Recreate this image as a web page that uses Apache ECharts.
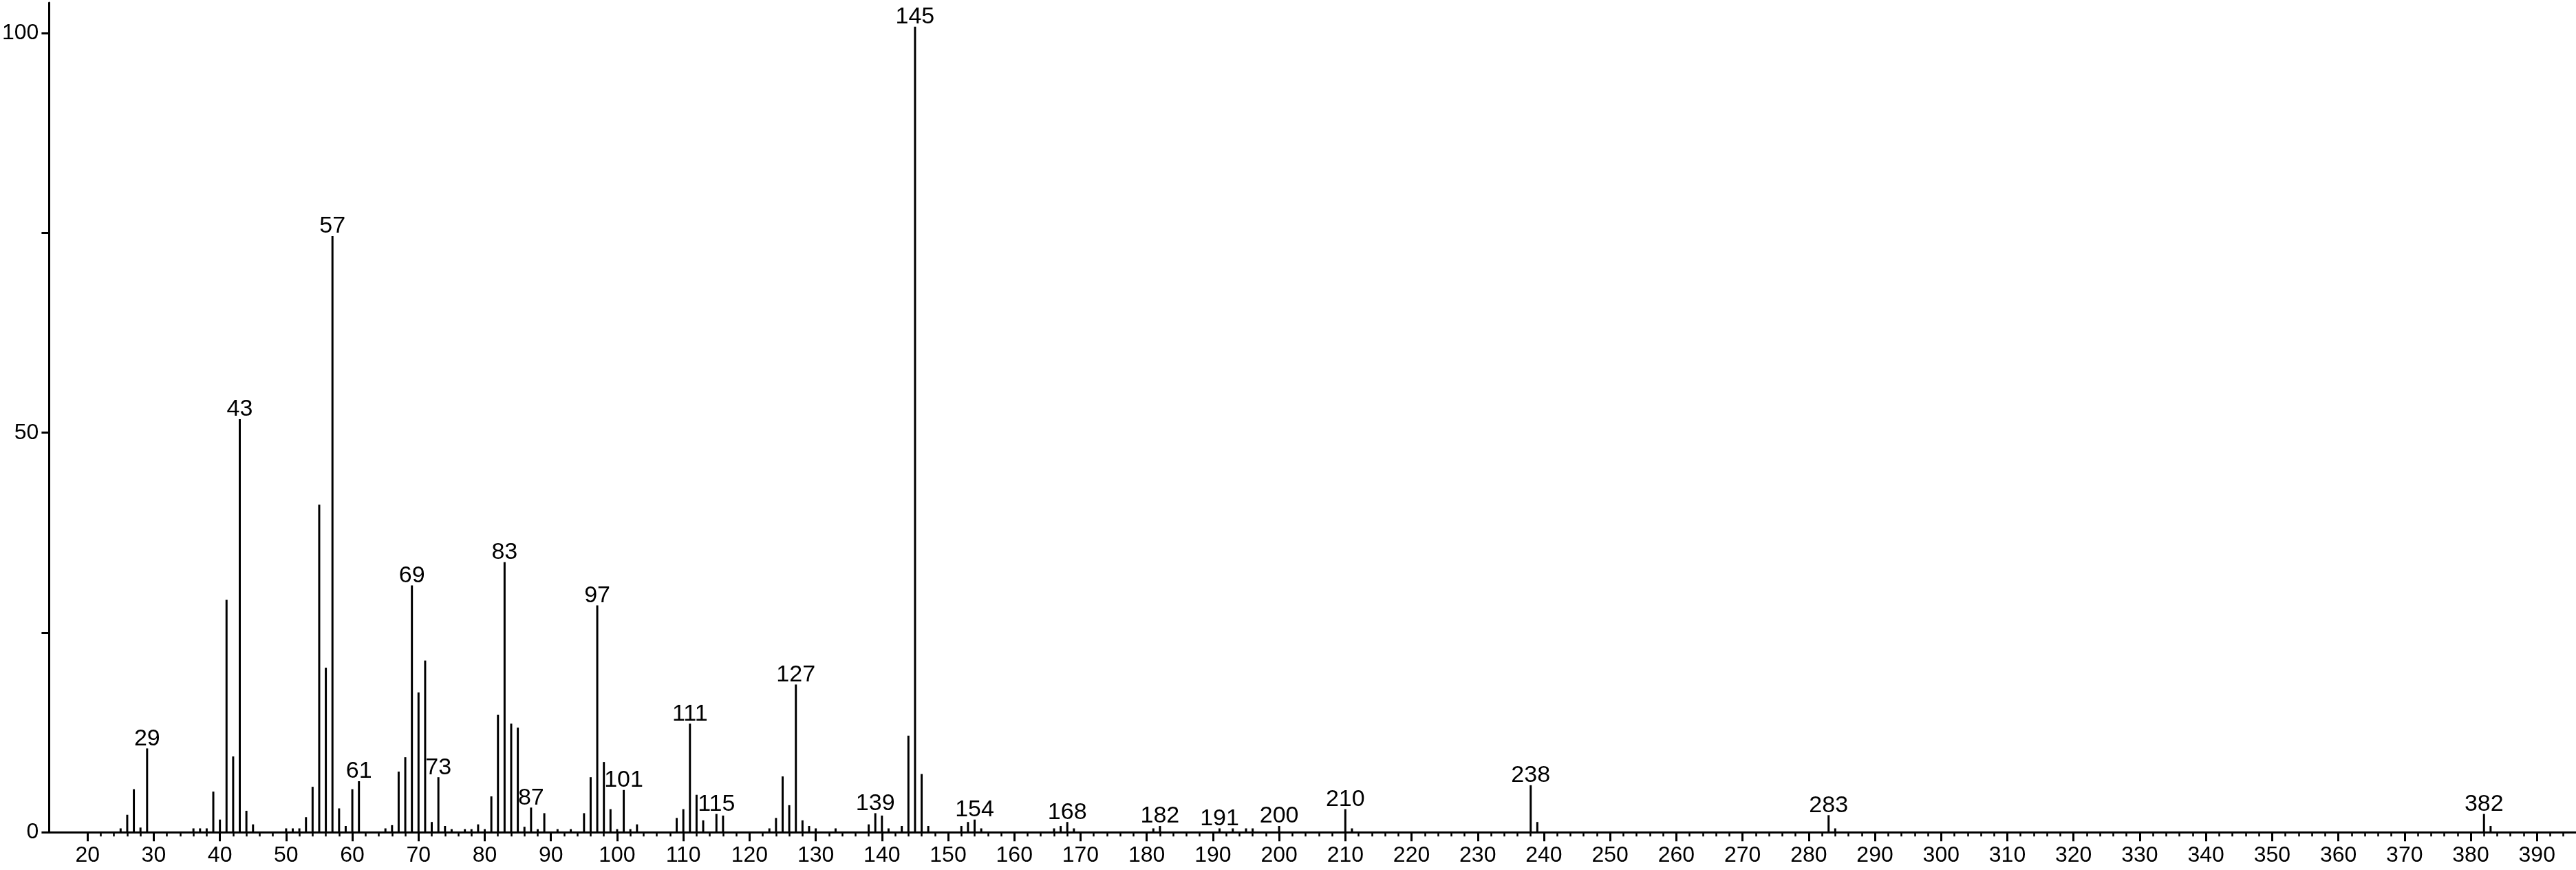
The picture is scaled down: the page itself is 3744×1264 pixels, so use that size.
<!DOCTYPE html>
<html>
<head>
<meta charset="utf-8">
<script src="https://cdn.jsdelivr.net/npm/echarts@6/dist/echarts.min.js"></script>
<style>
html,body{margin:0;padding:0;background:#fff;}
#chart{width:3744px;height:1264px;}
</style>
</head>
<body>
<div id="chart"></div>
<script>
// m/z values
const masses = [25,26,27,28,29,36,37,38,39,40,41,42,43,44,45,50,51,52,53,54,55,56,57,58,59,60,61,65,66,67,68,69,70,71,72,73,74,75,77,78,79,80,81,82,83,84,85,86,87,88,89,91,93,95,96,97,98,99,100,101,102,103,109,110,111,112,113,115,116,123,124,125,126,127,128,129,130,133,138,139,140,141,143,144,145,146,147,152,153,154,155,166,167,168,169,181,182,191,193,195,196,200,210,211,238,239,283,284,382,383];
// relative intensities (%)
const intensities = [0.5,2.2,5.4,0.6,10.5,0.5,0.5,0.5,5.1,1.6,29.1,9.5,51.7,2.7,1.0,0.5,0.5,0.5,1.9,5.7,41.0,20.6,74.6,3.0,0.8,5.4,6.4,0.5,0.9,7.6,9.4,30.9,17.5,21.5,1.3,6.9,0.8,0.4,0.4,0.4,1.0,0.4,4.5,14.7,33.8,13.6,13.1,0.7,3.1,0.4,2.4,0.4,0.4,2.4,6.9,28.4,8.8,2.9,0.4,5.3,0.4,1.0,1.8,2.9,13.6,4.7,1.5,2.3,2.1,0.5,1.8,7.0,3.4,18.5,1.5,0.8,0.5,0.5,1.0,2.4,2.1,0.5,0.8,12.1,100.8,7.3,0.8,0.8,1.3,1.6,0.5,0.5,0.8,1.3,0.5,0.5,0.8,0.5,0.5,0.5,0.5,0.8,2.9,0.5,5.9,1.3,2.15,0.5,2.3,0.8];
// peaks that carry an m/z label
const labeledMasses = [29,43,57,61,69,73,83,87,97,101,111,115,127,139,145,154,168,182,191,200,210,238,283,382];
// axis tick labels
const xTickLabels = [20,30,40,50,60,70,80,90,100,110,120,130,140,150,160,170,180,190,200,210,220,230,240,250,260,270,280,290,300,310,320,330,340,350,360,370,380,390];
const xMinorTicks = [22,24,26,28,32,34,36,38,42,44,46,48,52,54,56,58,62,64,66,68,72,74,76,78,82,84,86,88,92,94,96,98,102,104,106,108,112,114,116,118,122,124,126,128,132,134,136,138,142,144,146,148,152,154,156,158,162,164,166,168,172,174,176,178,182,184,186,188,192,194,196,198,202,204,206,208,212,214,216,218,222,224,226,228,232,234,236,238,242,244,246,248,252,254,256,258,262,264,266,268,272,274,276,278,282,284,286,288,292,294,296,298,302,304,306,308,312,314,316,318,322,324,326,328,332,334,336,338,342,344,346,348,352,354,356,358,362,364,366,368,372,374,376,378,382,384,386,388,392,394];
const yTickValues = [0,25,50,75,100];
const yTickLabels = [0,50,100];

const data = masses.map((m, i) => ({
  value: [m, intensities[i]],
  label: { show: labeledMasses.indexOf(m) >= 0 }
}));

const chart = echarts.init(document.getElementById('chart'), null, {renderer: 'canvas'});
const FONT = '"Liberation Sans", Arial, Helvetica, sans-serif';
chart.setOption({
  animation: false,
  backgroundColor: '#ffffff',
  grid: { left: 69.3, right: 0, top: 4, bottom: 54.7, containLabel: false },
  xAxis: [{
    type: 'value', min: 14.2, max: 395.9, position: 'bottom',
    axisLine: { show: true, lineStyle: { color: '#000', width: 3 } },
    axisTick: { show: true, length: 13, lineStyle: { color: '#000', width: 3 }, customValues: xTickLabels },
    axisLabel: { show: true, customValues: xTickLabels, margin: 18, color: '#000', fontSize: 32, fontFamily: FONT },
    splitLine: { show: false }
  }, {
    type: 'value', min: 14.2, max: 395.9, position: 'bottom',
    axisLine: { show: false },
    axisTick: { show: true, length: 6, lineStyle: { color: '#000', width: 2.5 }, customValues: xMinorTicks },
    axisLabel: { show: false },
    splitLine: { show: false }
  }],
  yAxis: {
    type: 'value', min: 0, max: 103.8,
    axisLine: { show: true, lineStyle: { color: '#000', width: 3 } },
    axisTick: { show: true, length: 11, lineStyle: { color: '#000', width: 3 }, customValues: yTickValues },
    axisLabel: { show: true, customValues: yTickLabels, margin: 15, color: '#000', fontSize: 32, fontFamily: FONT },
    splitLine: { show: false }
  },
  series: [{
    type: 'bar',
    xAxisIndex: 0,
    data: data,
    barWidth: 3,
    itemStyle: { color: '#000' },
    label: {
      position: 'top', distance: 2, offset: [0, 5], color: '#000', fontSize: 34,
      fontFamily: FONT,
      formatter: p => String(p.value[0])
    }
  }]
});
</script>
</body>
</html>
